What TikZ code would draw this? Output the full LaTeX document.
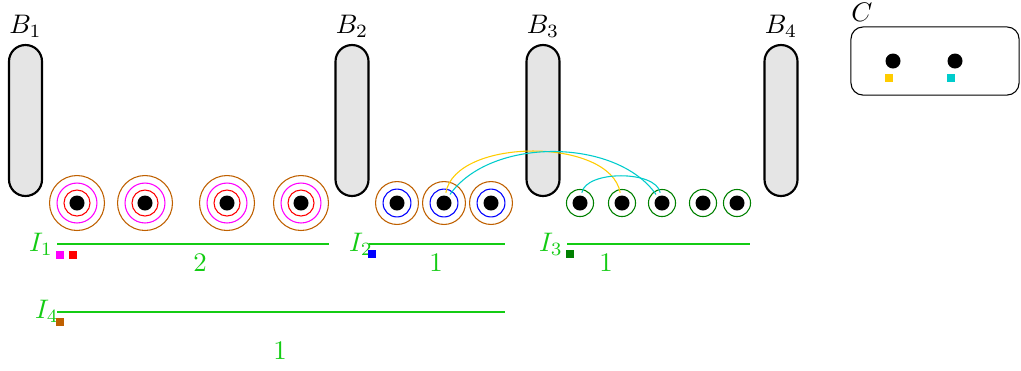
\documentclass[tikz,border=0pt]{standalone}
\usetikzlibrary{positioning}
\definecolor{ringbrown}{RGB}{191,96,0}
\definecolor{ringmag}{RGB}{255,0,255}
\definecolor{arcyellow}{RGB}{255,204,0}
\definecolor{arccyan}{RGB}{0,204,204}
\definecolor{ivgreen}{RGB}{20,204,20}
\definecolor{darkgr}{RGB}{0,128,0}

\begin{document}
\begin{tikzpicture}[x=0.0131cm, y=-0.0131cm,
        bar/.style={draw, thick, fill=black!10, rounded corners=6.1pt, minimum width=12.3pt, minimum height=56.3pt},
        dot/.style={circle, fill=black, inner sep=0pt, minimum size=5.6pt, outer sep=1.1pt},
        ring/.style={circle, draw, inner sep=0pt},
        sq/.style={inner sep=0pt, minimum size=3pt},
        intv/.style={draw=ivgreen, line width=0.5pt},
        lbl/.style={text=ivgreen}
      ]
        \useasboundingbox (0,0) rectangle (1021,370);
        % bags
        \node[bar] (b1) at (25.5,120.5) {};
        \node[bar] (b2) at (352,120.5) {};
        \node[bar] (b3) at (543,120.5) {};
        \node[bar] (b4) at (781,120.5) {};
        \node[above=-1.2pt of b1] (lb1) {$B_1$};
        \node[above=-1.2pt of b2] (lb2) {$B_2$};
        \node[above=-1.2pt of b3] (lb3) {$B_3$};
        \node[above=-1.2pt of b4] (lb4) {$B_4$};
        % colour box
        \node[draw, rounded corners=4.5pt, minimum width=62.7pt, minimum height=25.4pt] (cb) at (935,61) {};
        \node (lc) at (862,12) {$C$};
        \node[dot] (cy) at (893,61) {};
        \node[dot] (cc) at (955,61) {};
        \node[sq, fill=arcyellow] (sy) at (889,78) {};
        \node[sq, fill=arccyan] (sc) at (951,78) {};
        % first group
        \foreach \x [count=\i] in {77,145,227,301} {
          \node[ring, draw=ringbrown, minimum size=20.5pt] (o\i) at (\x,203) {};
          \node[ring, draw=ringmag, minimum size=14.9pt] (m\i) at (\x,203) {};
          \node[ring, draw=red, minimum size=9.7pt] (r\i) at (\x,203) {};
          \node[dot] (a\i) at (\x,203) {};
        }
        % second group
        \foreach \x [count=\i] in {397,444,491} {
          \node[ring, draw=ringbrown, minimum size=16pt] (p\i) at (\x,203) {};
          \node[ring, draw=blue, minimum size=10.4pt] (q\i) at (\x,203) {};
          \node[dot] (b\i) at (\x,203) {};
        }
        % third group
        \foreach \x [count=\i] in {580,622,662,703,737} {
          \node[ring, draw=darkgr, minimum size=10.1pt] (g\i) at (\x,203) {};
          \node[dot] (c\i) at (\x,203) {};
        }
        \draw[arcyellow] (b2) to[out=80,in=100,looseness=0.83] (c2);
        \draw[arccyan] (b2) to[out=55,in=125,looseness=0.87] (c3);
        \draw[arccyan] (c1) to[out=80,in=100,looseness=0.75] (c3);
        % intervals
        \coordinate (i1s) at (57,244);
        \coordinate (i1e) at (329,244);
        \coordinate (i2s) at (369,244);
        \coordinate (i2e) at (505,244);
        \coordinate (i3s) at (567,244);
        \coordinate (i3e) at (750,244);
        \coordinate (i4s) at (57,312);
        \coordinate (i4e) at (505,312);
        \draw[intv] (i1s) -- (i1e);
        \draw[intv] (i2s) -- (i2e);
        \draw[intv] (i3s) -- (i3e);
        \draw[intv] (i4s) -- (i4e);
        \node[lbl] (li1) at (41,244) {$I_1$};
        \node[lbl] (li2) at (361,244) {$I_2$};
        \node[lbl] (li3) at (551,244) {$I_3$};
        \node[lbl] (li4) at (47,311) {$I_4$};
        \node[lbl] (n1) at (200,263) {$2$};
        \node[lbl] (n2) at (436,263) {$1$};
        \node[lbl] (n3) at (606,263) {$1$};
        \node[lbl] (n4) at (280,351) {$1$};
        \node[sq, fill=ringmag] (s1m) at (60,255) {};
        \node[sq, fill=red] (s1r) at (73,255) {};
        \node[sq, fill=blue] (s2) at (372,254) {};
        \node[sq, fill=darkgr] (s3) at (570,254) {};
        \node[sq, fill=ringbrown] (s4) at (60,322) {};
      \end{tikzpicture}
\end{document}
